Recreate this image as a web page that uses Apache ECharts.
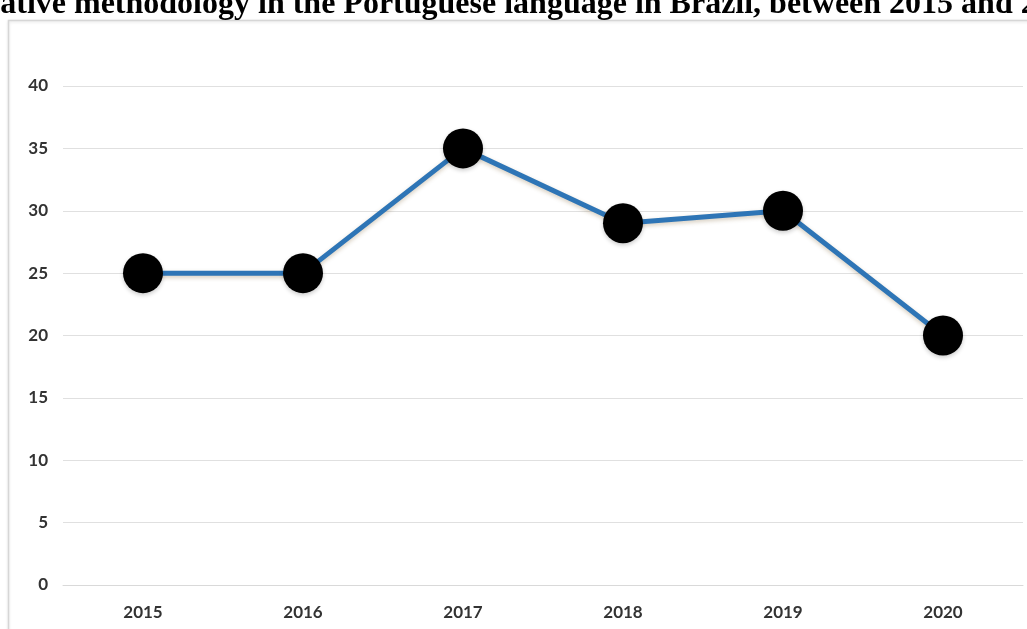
<!DOCTYPE html>
<html>
<head>
<meta charset="utf-8">
<script src="https://cdn.jsdelivr.net/npm/echarts@6/dist/echarts.min.js"></script>
<style>
  html, body { margin: 0; padding: 0; background: #ffffff; }
  #chart { width: 1027px; height: 629px; }
</style>
</head>
<body>
<div id="chart"></div>
<script>
// Yearly counts of studies
const years = ['2015', '2016', '2017', '2018', '2019', '2020'];
const studies = [25, 25, 35, 29, 30, 20];
const yTicks = { min: 0, max: 40, step: 5 };

const titleText = 'Number of studies with qualitative methodology in the Portuguese language in Brazil, between 2015 and 2020';
const titleLead = 'Number of studies with qualitative ';
const titleFont = 'bold 32px "Liberation Serif", "Times New Roman", serif';

// Place the heading so "methodology" starts near the left of the frame
const ctx = document.createElement('canvas').getContext('2d');
ctx.font = titleFont;
const titleX = 74 - ctx.measureText(titleLead).width;

const labelFont = { fontFamily: 'Lato, "Open Sans", sans-serif', fontWeight: 'bold', fontSize: 17, color: '#333333' };

const chart = echarts.init(document.getElementById('chart'), null, { renderer: 'canvas' });
chart.setOption({
  backgroundColor: '#ffffff',
  animation: false,
  graphic: [
    {
      type: 'rect',
      shape: { x: 8.5, y: 20.5, width: 1100, height: 700 },
      style: { fill: 'rgba(0,0,0,0)', stroke: '#d6d6d6', lineWidth: 1.5,
               shadowColor: 'rgba(0,0,0,0.12)', shadowBlur: 3, shadowOffsetY: 1 },
      z: 0, silent: true
    },
    {
      type: 'text',
      x: titleX, y: 5,
      style: { text: titleText, font: titleFont, fill: '#000000', verticalAlign: 'middle', align: 'left' },
      z: 10, silent: true
    }
  ],
  grid: { left: 63, right: 4, top: 86, bottom: 44, containLabel: false },
  xAxis: {
    type: 'category',
    data: years,
    boundaryGap: true,
    axisLine: { show: true, lineStyle: { color: '#d9d9d9', width: 1 } },
    axisTick: { show: false },
    axisLabel: Object.assign({ margin: 19 }, labelFont),
    splitLine: { show: false }
  },
  yAxis: {
    type: 'value',
    min: yTicks.min, max: yTicks.max, interval: yTicks.step,
    axisLine: { show: false },
    axisTick: { show: false },
    axisLabel: Object.assign({ margin: 15 }, labelFont),
    splitLine: { show: true, lineStyle: { color: '#e0e0e0', width: 1 } }
  },
  series: [{
    type: 'line',
    data: studies,
    symbol: 'circle',
    symbolSize: 40,
    itemStyle: { color: '#000000', borderWidth: 0,
                 shadowColor: 'rgba(0,0,0,0.2)', shadowBlur: 4, shadowOffsetY: 2 },
    lineStyle: { color: '#2E75B6', width: 5,
                 shadowColor: 'rgba(120,90,40,0.3)', shadowBlur: 4, shadowOffsetY: 2 },
    z: 3
  }]
});
</script>
</body>
</html>
